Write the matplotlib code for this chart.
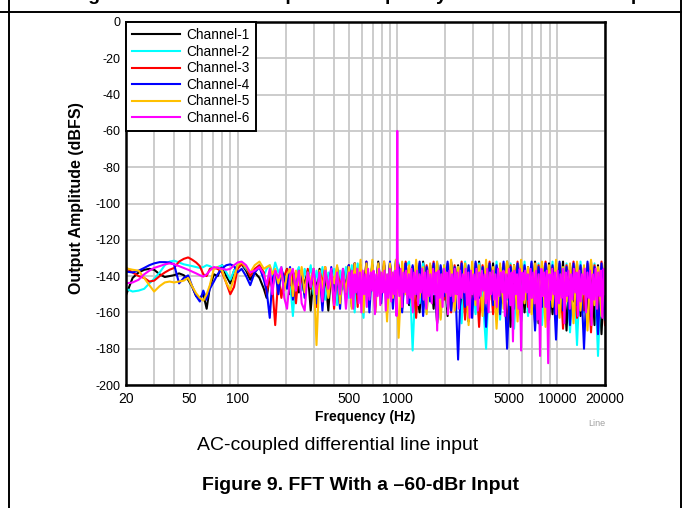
import numpy as np
import matplotlib
matplotlib.use("Agg")
import matplotlib.pyplot as plt
from matplotlib.lines import Line2D
from matplotlib.ticker import FixedLocator, NullFormatter

plt.rcParams['font.family'] = ['Liberation Sans', 'DejaVu Sans']

# ---------------- data ----------------
channels = ["Channel-1", "Channel-2", "Channel-3", "Channel-4", "Channel-5", "Channel-6"]
colors = ["#000000", "#00ffff", "#ff0000", "#0000ff", "#ffc000", "#ff00ff"]

LOW_F = [20, 22, 24, 26, 28, 30, 32.5, 35, 37.5, 40, 43, 46, 49, 52, 55, 58, 61, 64, 67, 71,
         75, 80, 85, 90, 95, 100, 106, 113, 120, 128, 137, 146]

MID_F = [152, 159, 165, 172, 180, 188, 196, 204, 213, 222, 232, 242, 252, 263, 275, 287, 299,
         312, 326, 340, 354, 370, 386, 402, 420, 438, 457, 477, 497, 519, 541, 565, 589, 615,
         641, 669, 698, 728, 760, 793, 827, 863, 900, 939, 980]

# upper FFT band: (start Hz, stop Hz), values sampled log-evenly across it
HIGH_BAND = {"Channel-1": (1020, 20000), "Channel-2": (1020, 20000), "Channel-3": (1020, 20000),
             "Channel-4": (1020, 20000), "Channel-5": (1020, 20000), "Channel-6": (500, 20000)}

low_db = {
    "Channel-1": [-150.5, -141, -138, -136.5, -136, -136.5, -139, -140.5, -140, -139.5, -138.5, -139.5,
                  -142, -146, -151, -152, -150, -158, -146, -139, -140, -134, -140, -144, -137, -134,
                  -133.5, -137, -142, -138, -141, -147],
    "Channel-2": [-147, -148.5, -148, -147, -144, -141.5, -138, -134, -132, -131.5, -132.5, -133.5,
                  -134, -134.5, -135, -135.5, -135, -134, -134.5, -136, -135, -134, -138, -142, -137,
                  -134, -133, -136, -139, -137, -134, -140],
    "Channel-3": [-135.5, -138, -140, -141, -143, -142.5, -140, -138, -136.5, -135.5, -132, -130.5,
                  -129.7, -131, -132.5, -134.5, -139, -140, -136, -135.5, -136, -138, -143.8, -150,
                  -146, -136, -133.5, -135, -140, -136, -134, -138],
    "Channel-4": [-137.5, -138, -137, -135.5, -134, -133, -132.3, -132.3, -132.5, -133.5, -144, -141,
                  -139.6, -145.8, -151, -154, -148, -153, -147, -143, -139, -135.7, -134, -133.5,
                  -134.5, -138, -136, -140, -145, -138, -135, -142],
    "Channel-5": [-135.7, -136.5, -137, -141, -145, -148.5, -145.5, -143.5, -143, -143.5, -143, -142.5,
                  -141, -145.8, -149.5, -152, -153.5, -150, -145, -136, -135, -137, -143.8, -147.7,
                  -141, -134, -132.5, -135, -138, -134, -132, -136],
    "Channel-6": [-144, -143.5, -142, -139, -137, -135.5, -134.5, -133.5, -133, -133.5, -134.5, -135.5,
                  -136.5, -137.5, -138.5, -139.5, -140.3, -139, -137, -135, -135.5, -136, -136.5, -136,
                  -134, -132.5, -132, -134, -138, -137, -135, -139],
}

mid_db = {
    "Channel-1": [-152, -140, -147, -137, -143, -139, -146, -136, -150, -141, -138, -149, -140, -144,
                  -137, -159, -139, -147, -136, -152, -140, -159, -137, -148, -135, -153, -139, -146,
                  -134, -155, -133, -150, -135, -158, -133, -145, -134, -152, -132, -148, -134, -155,
                  -133, -150, -132],
    "Channel-2": [-136, -134, -140, -132.5, -138, -135, -146, -137, -143, -162, -139, -135, -148, -136,
                  -142, -134, -150, -137, -145, -135, -153, -138, -141, -136, -156, -137, -147, -135,
                  -152, -134, -160, -133, -149, -163, -134, -151, -132, -155, -134, -147, -133, -158,
                  -134, -150, -131],
    "Channel-3": [-150, -139, -146, -167, -140, -152, -140, -136, -145, -138, -155, -137, -142, -150,
                  -136, -147, -139, -157, -137, -144, -135, -151, -138, -158, -136, -146, -139, -153,
                  -134, -149, -133, -157, -134, -147, -132, -152, -134, -160, -133, -148, -132, -154,
                  -134, -146, -133],
    "Channel-4": [-148, -163, -142, -137, -150, -136, -141, -147, -135, -153, -138, -144, -137, -152,
                  -139, -146, -136, -155, -138, -159, -137, -149, -135, -152, -139, -158, -136, -148,
                  -134, -157, -133, -150, -134, -153, -132, -160, -134, -149, -133, -155, -134, -151,
                  -132, -158, -134],
    "Channel-5": [-135, -134, -139, -136, -144, -137, -148, -139, -136, -151, -137, -145, -135, -149,
                  -138, -143, -136, -178, -137, -147, -135, -152, -138, -144, -134, -155, -137, -149,
                  -135, -158, -133, -147, -131, -160, -133, -151, -131, -156, -133, -149, -132, -165,
                  -133, -152, -131],
    "Channel-6": [-145, -136, -150, -137, -141, -135, -152, -158, -140, -136, -148, -137, -155, -159,
                  -138, -146, -136, -150, -138, -154, -137, -147, -136, -156, -138, -150, -136, -158,
                  -139],
}

# 1 kHz test tone (-60 dBr) seen on Channel-6
PEAK_F = [995, 1000, 1005]
PEAK_DB = [-125, -60, -125]

high_db = {
    "Channel-1": [-134, -150, -133, -156, -135, -148, -160, -132, -152, -134, -158, -133, -149, -135,
                  -162, -132, -151, -134, -157, -133, -165, -135, -153, -132, -159, -134, -150, -133,
                  -163, -135, -155, -132, -168, -134, -152, -133, -160, -135, -156, -132, -166, -134,
                  -153, -133, -161, -135, -157, -132, -170, -134, -154, -133, -162, -135, -158, -132,
                  -167, -134, -172, -133],
    "Channel-2": [-133, -152, -135, -132, -181, -134, -155, -133, -160, -135, -150, -132, -163, -134,
                  -157, -133, -152, -135, -166, -132, -154, -134, -161, -133, -150, -180, -135, -158,
                  -132, -164, -134, -153, -133, -169, -135, -156, -132, -162, -134, -151, -133, -167,
                  -135, -155, -132, -163, -134, -158, -133, -171, -135, -178, -132, -160, -134, -166,
                  -133, -184, -135, -165],
    "Channel-3": [-134, -158, -132, -151, -135, -163, -133, -155, -134, -149, -132, -166, -135, -153,
                  -133, -160, -134, -150, -132, -164, -135, -156, -133, -168, -134, -152, -132, -161,
                  -135, -155, -133, -170, -134, -153, -132, -162, -135, -157, -133, -166, -134, -151,
                  -132, -164, -135, -158, -133, -169, -134, -154, -132, -163, -135, -159, -133, -171,
                  -134, -160, -132, -167],
    "Channel-4": [-135, -160, -133, -155, -134, -150, -132, -162, -135, -154, -133, -166, -134, -151,
                  -132, -159, -135, -186, -133, -157, -134, -163, -132, -152, -135, -168, -133, -156,
                  -134, -161, -132, -180, -135, -158, -133, -165, -134, -153, -132, -170, -135, -157,
                  -133, -163, -134, -175, -132, -159, -135, -167, -133, -156, -134, -180, -132, -162,
                  -135, -172, -133, -164],
    "Channel-5": [-174, -132, -150, -134, -157, -131, -152, -135, -161, -133, -148, -132, -164, -134,
                  -155, -131, -159, -135, -151, -133, -167, -132, -156, -134, -162, -131, -153, -135,
                  -169, -133, -158, -132, -150, -134, -165, -131, -155, -135, -161, -133, -152, -132,
                  -168, -134, -157, -131, -163, -135, -154, -133, -166, -132, -159, -134, -170, -131,
                  -156, -135, -162, -133],
    "Channel-6": [-138, -152, -137, -158, -139, -149, -136, -155, -138, -160,
                  -137, -150, -139, -157, -136, -153, -138, -148, -137, -161,
                  -139, -151, -136, -156, -138, -149, -137, -159, -139, -152,
                  -136, -154, -138, -150, -137, -162, -139, -151, -136, -157,
                  -138, -149, -137, -155, -139, -152, -136, -160, -138, -150,
                  -137, -156, -139, -149, -136, -153, -138, -158, -137, -151,
                  -139, -155, -136, -150, -138, -170, -137, -152, -139, -157,
                  -136, -149, -138, -161, -137, -151, -139, -154, -136, -150,
                  -138, -158, -137, -152, -139, -149, -136, -156, -138, -163,
                  -137, -150, -139, -153, -136, -159, -138, -151, -137, -148,
                  -139, -155, -136, -160, -138, -150, -137, -153, -139, -157,
                  -136, -151, -138, -149, -137, -162, -139, -152, -136, -156,
                  -138, -176, -137, -150, -139, -158, -136, -181, -138, -153,
                  -137, -149, -139, -160, -136, -152, -138, -155, -137, -164,
                  -139, -184, -136, -151, -138, -157, -137, -188, -139, -153,
                  -136, -150, -138, -161, -137, -155, -139, -152, -136, -166,
                  -138, -151, -137, -158, -139, -153, -136, -149, -138, -162,
                  -137, -154, -139, -150, -136, -160, -138, -152, -137, -167,
                  -139, -153, -136, -158, -138, -151, -137, -163, -136, -150],
}

x_major = [20, 50, 100, 500, 1000, 5000, 10000, 20000]
x_labels = ["20", "50", "100", "500", "1000", "5000", "10000", "20000"]
x_minor = [30, 40, 60, 70, 80, 90, 200, 300, 400, 600, 700, 800, 900,
           2000, 3000, 4000, 6000, 7000, 8000, 9000]
y_ticks = [0, -20, -40, -60, -80, -100, -120, -140, -160, -180, -200]

# ---------------- figure ----------------
W, H = 683, 508
fig = plt.figure(figsize=(W / 100, H / 100), dpi=100)
fig.patch.set_facecolor("white")

def fx(px):
    return px / W

def fy(py):
    return 1 - py / H

ax = fig.add_axes([fx(126), fy(385), fx(605) - fx(126), fy(22) - fy(385)])

for name, col in zip(channels, colors):
    md = mid_db[name]
    hd = high_db[name]
    lo, hi = HIGH_BAND[name]
    f = list(LOW_F) + list(MID_F[:len(md)]) + list(np.geomspace(lo, hi, len(hd)))
    d = list(low_db[name]) + list(md) + list(hd)
    if name == "Channel-6":
        f += PEAK_F
        d += PEAK_DB
    order = np.argsort(f)
    f = np.asarray(f)[order]
    d = np.asarray(d)[order]
    ax.plot(f, d, color=col, lw=1.5, label=name)

ax.set_xscale("log")
ax.set_xlim(20, 20000)
ax.set_ylim(-200, 0)
ax.xaxis.set_major_locator(FixedLocator(x_major))
ax.set_xticklabels(x_labels)
ax.xaxis.set_minor_locator(FixedLocator(x_minor))
ax.xaxis.set_minor_formatter(NullFormatter())
ax.set_yticks(y_ticks)
ax.set_yticklabels([str(v) for v in y_ticks])
ax.tick_params(axis="both", which="both", length=0)
ax.tick_params(axis="x", labelsize=10, pad=5)
ax.tick_params(axis="y", labelsize=9, pad=4)
ax.grid(True, which="both", axis="x", color="#c8c8c8", lw=1.3)
ax.grid(True, which="major", axis="y", color="#c8c8c8", lw=1.3)
ax.set_axisbelow(True)
for s in ax.spines.values():
    s.set_linewidth(1.8)
    s.set_color("black")

ax.set_xlabel("Frequency (Hz)", fontsize=10, fontweight="bold", labelpad=3)
ax.set_ylabel("Output Amplitude (dBFS)", fontsize=11.5, fontweight="bold")
ax.yaxis.set_label_coords(-0.088, 0.515)

leg = ax.legend(loc="upper left", fontsize=9.8, frameon=True, fancybox=False,
                borderaxespad=0, handlelength=3.5, handletextpad=0.5,
                labelspacing=0.19, borderpad=0.45)
leg.get_frame().set_edgecolor("black")
leg.get_frame().set_linewidth(1.4)
leg.get_frame().set_facecolor("white")
leg.get_frame().set_alpha(1)

fig.text(fx(597), fy(424), "Line", fontsize=6.5, color="#a0a0a0", ha="center", va="center")
fig.text(fx(338), fy(446), "AC-coupled differential line input", fontsize=14,
         ha="center", va="center")
fig.text(fx(360), fy(485), "Figure 9. FFT With a \u201360-dBr Input", fontsize=14,
         fontweight="bold", ha="center", va="center")
# caption of the figure above, clipped by the page crop (only descenders visible)
fig.text(fx(366), fy(0.5), "Figure 8. Crosstalk Output vs Frequency With a Full-Scale Input",
         fontsize=14, fontweight="bold", ha="center", va="baseline")

# page frame lines
fig.add_artist(Line2D([fx(9), fx(9)], [0, 1], color="black", lw=1.4))
fig.add_artist(Line2D([fx(681), fx(681)], [0, 1], color="black", lw=1.4))
fig.add_artist(Line2D([0, fx(681)], [fy(12), fy(12)], color="black", lw=1.4))

fig.savefig("out.png", dpi=100, facecolor="white")
